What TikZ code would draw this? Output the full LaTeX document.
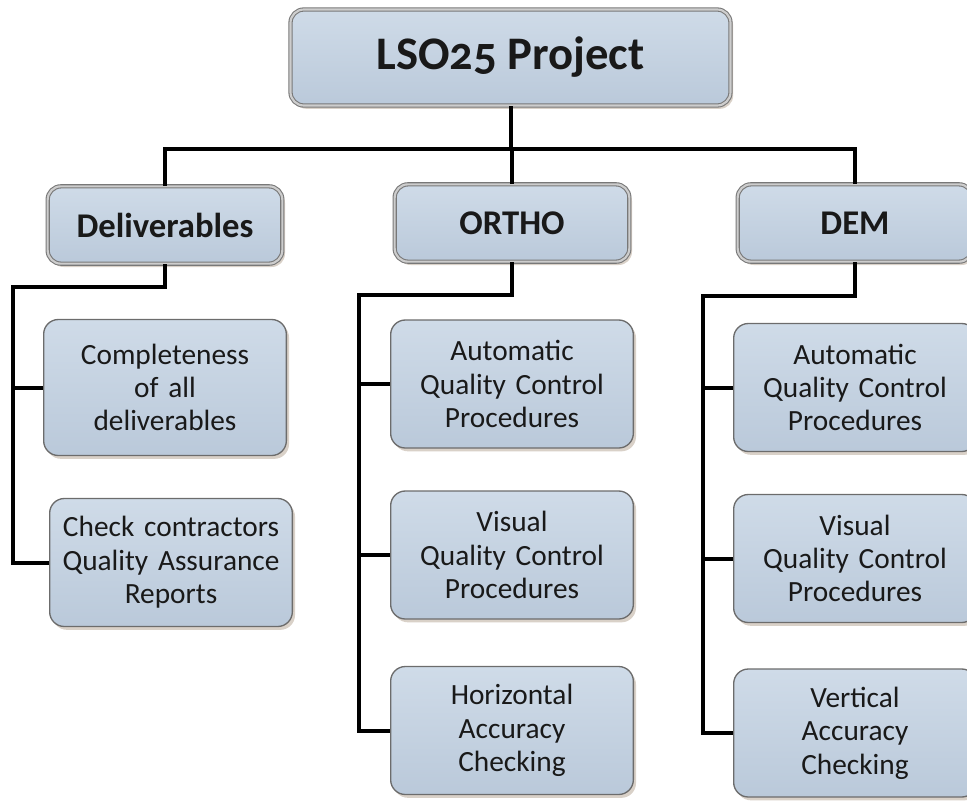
\documentclass[tikz,border=0pt]{standalone}
\usepackage{fontspec}
\setmainfont{Carlito}
\usetikzlibrary{shadows}
\definecolor{boxtop}{RGB}{207,219,232}
\definecolor{boxbot}{RGB}{186,201,218}
\definecolor{rim}{RGB}{120,120,120}
\definecolor{rimlight}{RGB}{205,205,205}
\definecolor{txt}{RGB}{25,25,25}
\tikzset{
  boxbase/.style={rounded corners=10pt, top color=boxtop, bottom color=boxbot,
    text=txt, align=center, inner sep=2pt,
    drop shadow={shadow xshift=2pt, shadow yshift=-2.5pt, fill=black!45!brown, opacity=0.25}},
  rootbox/.style={boxbase, draw=rim, double=rimlight, double distance=1.6pt, line width=0.8pt,
    minimum width=330pt, minimum height=72pt,
    font=\fontsize{35}{40}\selectfont\bfseries\addfontfeatures{Numbers=OldStyle}},
  levelbox/.style={boxbase, draw=rim, double=rimlight, double distance=1.6pt, line width=0.8pt,
    minimum width=176pt, minimum height=58pt,
    font=\fontsize{26}{30}\selectfont\bfseries},
  leafbox/.style={boxbase, draw=rim!90!black, line width=1pt, rounded corners=11pt,
    minimum width=182pt, minimum height=96pt, text width=178pt,
    font=\fontsize{22}{25}\selectfont},
  conn/.style={line width=3pt, black}
}
\begin{document}
\begin{tikzpicture}[x=0.75pt, y=-0.75pt]
\useasboundingbox (0,0) rectangle (967,800);

% root and level boxes
\node[rootbox] (root) at (510.5,57.5) {LSO25 Project};
\node[levelbox] (del) at (165,225) {Deliverables};
\node[levelbox] (ortho) at (512,223) {ORTHO};
\node[levelbox] (dem) at (855,223) {DEM};

% leaves
\node[leafbox, minimum height=102pt] (d1) at (165,387.5) {Completeness\\of all\\deliverables};
\node[leafbox] (d2) at (171,562.5) {Check contractors\\Quality Assurance\\Reports};
\node[leafbox] (o1) at (512,384) {Automatic\\Quality Control\\Procedures};
\node[leafbox] (o2) at (512,555) {Visual\\Quality Control\\Procedures};
\node[leafbox] (o3) at (512,730.5) {Horizontal\\Accuracy\\Checking};
\node[leafbox] (m1) at (855,387.5) {Automatic\\Quality Control\\Procedures};
\node[leafbox] (m2) at (855,558.5) {Visual\\Quality Control\\Procedures};
\node[leafbox] (m3) at (855,733) {Vertical\\Accuracy\\Checking};

% trunk coordinates
\coordinate (hb) at (0,149);
\coordinate (dtr) at (13,287);
\coordinate (otr) at (359,295);
\coordinate (mtr) at (703,296);

% connectors
\draw[conn] (root.south) -- (root.south |- hb);
\draw[conn] (del.north) -- (del.north |- hb) -- (dem.north |- hb) -- (dem.north);
\draw[conn] (ortho.north |- hb) -- (ortho.north);

\draw[conn] (del.south) |- (dtr) -- (dtr |- d2.west) -- (d2.west);
\draw[conn] (dtr |- d1.west) -- (d1.west);

\draw[conn] (ortho.south) |- (otr) -- (otr |- o3.west) -- (o3.west);
\draw[conn] (otr |- o1.west) -- (o1.west);
\draw[conn] (otr |- o2.west) -- (o2.west);

\draw[conn] (dem.south) |- (mtr) -- (mtr |- m3.west) -- (m3.west);
\draw[conn] (mtr |- m1.west) -- (m1.west);
\draw[conn] (mtr |- m2.west) -- (m2.west);
\end{tikzpicture}
\end{document}
